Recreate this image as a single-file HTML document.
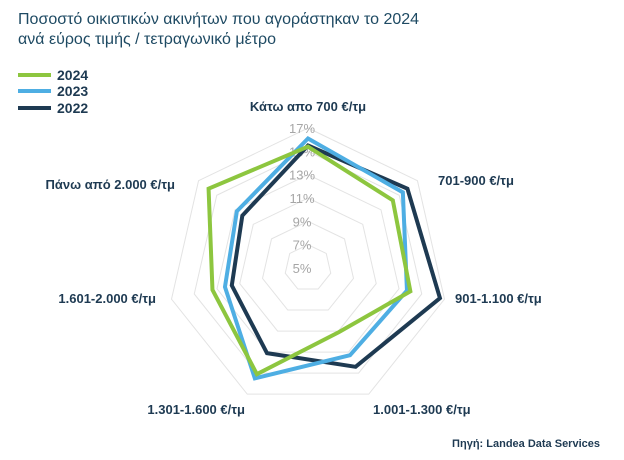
<!DOCTYPE html>
<html><head><meta charset="utf-8"><style>
body{margin:0;background:#fff;width:624px;height:455px;overflow:hidden;font-family:"Liberation Sans",sans-serif}
</style></head><body>
<svg id="c" width="624" height="455">
<text x="18" y="24" font-size="16" fill="#1e4a63">Ποσοστό οικιστικών ακινήτων που αγοράστηκαν το 2024</text>
<text x="18" y="44" font-size="16" fill="#1e4a63">ανά εύρος τιμής / τετραγωνικό μέτρο</text>
<g>
<line x1="18" y1="75" x2="51" y2="75" stroke="#8dc63f" stroke-width="4"/>
<text x="57" y="80" font-size="14" font-weight="bold" fill="#1e3a52">2024</text>
<line x1="18" y1="91" x2="51" y2="91" stroke="#4eaee3" stroke-width="4"/>
<text x="57" y="96" font-size="14" font-weight="bold" fill="#1e3a52">2023</text>
<line x1="18" y1="108" x2="51" y2="108" stroke="#1e3a52" stroke-width="4"/>
<text x="57" y="113" font-size="14" font-weight="bold" fill="#1e3a52">2022</text>
</g>
<g id="grid"></g><g id="ticks"></g><g id="series"></g><g id="labels"></g>
<text x="600" y="447" font-size="11" font-weight="bold" fill="#1e3a52" text-anchor="end">Πηγή: Landea Data Services</text>
</svg>
<script>
const categories=["Κάτω απο 700 €/τμ","701-900 €/τμ","901-1.100 €/τμ","1.001-1.300 €/τμ","1.301-1.600 €/τμ","1.601-2.000 €/τμ","Πάνω από 2.000 €/τμ"];
const values2024=[15.4,14.3,14.0,11.1,15.1,13.4,15.9];
const values2023=[16.1,15.4,13.7,13.3,15.5,12.3,12.8];
const values2022=[15.5,15.9,16.6,14.4,13.1,11.7,12.2];
const tickLabels=[5,7,9,11,13,15,17];
const NS="http://www.w3.org/2000/svg";
const cx=308,cy=268,rMin=5,rMax=17,R=140;
function rad(v){return (v-rMin)/(rMax-rMin)*R;}
function pt(i,v){const a=i*2*Math.PI/categories.length;const r=rad(v);return [cx+r*Math.sin(a),cy-r*Math.cos(a)];}
function mk(tag,parent,attrs){const e=document.createElementNS(NS,tag);for(const k in attrs)e.setAttribute(k,attrs[k]);document.getElementById(parent).appendChild(e);return e;}
tickLabels.forEach(t=>{
  if(t===rMin)return;
  const p=mk('polygon','grid',{points:categories.map((c,i)=>pt(i,t).join(',')).join(' '),fill:'none',stroke:'#e3e3e3','stroke-width':1});
  
  
});
tickLabels.forEach(t=>{
  const e=mk('text','ticks',{x:cx-6,y:cy-rad(t)+5,'font-size':13,fill:'#a6a6a6','text-anchor':'middle'});
  e.textContent=t+'%';
  
  
});
const series=[["2022",values2022,"#1e3a52"],["2023",values2023,"#4eaee3"],["2024",values2024,"#8dc63f"]];
series.forEach(s=>{
  const p=mk('polygon','series',{points:s[1].map((v,i)=>pt(i,v).join(',')).join(' '),fill:'none',stroke:s[2],'stroke-width':4,'stroke-linejoin':'miter'});
  
  
});
const lab=[[308,111,'middle'],[438,185,'start'],[455,303,'start'],[373,414,'start'],[245,414,'end'],[156,303,'end'],[175,189,'end']];
categories.forEach((c,i)=>{
  const e=mk('text','labels',{x:lab[i][0],y:lab[i][1],'font-size':13,'font-weight':'bold',fill:'#1e3a52','text-anchor':lab[i][2]});
  e.textContent=c;
  
  
});
</script>
</body></html>
